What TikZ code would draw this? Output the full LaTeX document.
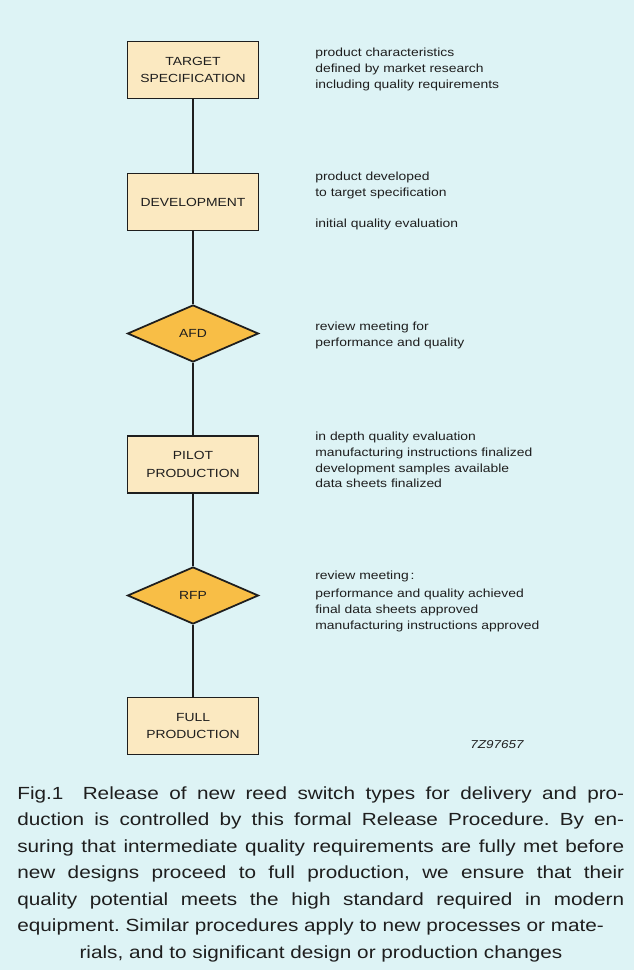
\documentclass[tikz,border=0pt]{standalone}
\usepackage{fontspec}
\setmainfont[FakeStretch=1.18]{Liberation Sans}
\usetikzlibrary{shapes.geometric}
\definecolor{bgblue}{RGB}{221,243,245}
\definecolor{boxfill}{RGB}{251,233,193}
\definecolor{diafill}{RGB}{248,190,70}
\definecolor{ink}{RGB}{30,30,30}

\begin{document}
\begin{tikzpicture}[x=0.02cm, y=-0.02cm,
  stage/.style={draw=ink, line width=1pt, fill=boxfill, minimum width=2.62cm, minimum height=1.14cm,
    inner sep=0pt, align=center, text=ink, font=\fontsize{6.7}{10}\selectfont},
  review/.style={stage, shape=diamond, fill=diafill},
  remark/.style={anchor=north west, inner sep=0pt, align=left, text=ink, font=\fontsize{6.7}{9}\selectfont},
  flow/.style={draw=ink, line width=0.8pt},
  figtext/.style={inner sep=0pt, text=ink, font=\fontsize{10}{15}\selectfont}]
\fill[bgblue] (0,0) rectangle (634,970);

% procedure steps
\node[stage] (target) at (193,70) {TARGET\\SPECIFICATION};
\node[stage] (devel) at (193,202) {DEVELOPMENT};
\node[review] (afd) at (193,333.5) {AFD};
\node[stage] (pilot) at (193,464.5) {PILOT\\PRODUCTION};
\node[review] (rfp) at (193,595.5) {RFP};
\node[stage] (full) at (193,726) {FULL\\PRODUCTION};

% connecting line
\draw[flow] (target) to (devel);
\draw[flow] (devel) to (afd);
\draw[flow] (afd) to (pilot);
\draw[flow] (pilot) to (rfp);
\draw[flow] (rfp) to (full);

% remarks
\node[remark] (targetnote) at (315,47.5) {product characteristics\\defined by market research\\including quality requirements};
\node[remark] (develnote) at (315,171.5) {product developed\\to target specification\\[8.8pt]initial quality evaluation};
\node[remark] (afdnote) at (315,321.5) {review meeting for\\performance and quality};
\node[remark] (pilotnote) at (315,431.5) {in depth quality evaluation\\manufacturing instructions finalized\\development samples available\\data sheets finalized};
\node[remark] (rfpnote) at (315,570.5) {review meeting\,:\\[1.5pt]performance and quality achieved\\final data sheets approved\\manufacturing instructions approved};
\node[remark, anchor=center, font=\fontsize{6.5}{8}\selectfont\itshape] (code) at (497,745) {7Z97657};

% caption
\node[figtext, anchor=north west, text width=12.14cm, align=justify] (cap) at (17,786.5)
  {\frenchspacing\parfillskip=0pt \tolerance=9999 Fig.1\hspace{1.1em}Release of new reed switch types for delivery and pro-\linebreak
  duction is controlled by this formal Release Procedure. By en-\linebreak
  suring that intermediate quality requirements are fully met before\linebreak
  new designs proceed to full production, we ensure that their\linebreak
  quality potential meets the high standard required in modern\linebreak
  equipment. Similar procedures apply to new processes or mate-};
\node[figtext, anchor=base] (capend) at (321,958) {rials, and to significant design or production changes};
\end{tikzpicture}
\end{document}
